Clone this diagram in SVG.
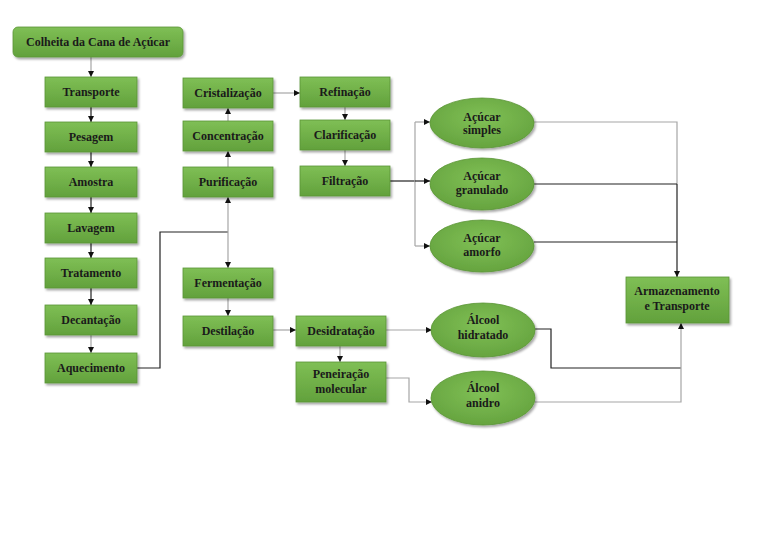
<svg xmlns="http://www.w3.org/2000/svg" width="768" height="543" viewBox="0 0 768 543">
<style>
.b{fill:url(#g);stroke:#5a9536;stroke-width:0.8;filter:url(#sh)}
.e{fill:url(#ge);stroke:#5a9536;stroke-width:0.8;filter:url(#sh)}
text{font-family:"Liberation Serif","Times New Roman",serif;font-weight:bold;font-size:12px;fill:#1a1a1a;text-anchor:middle}
.k{fill:none;stroke:#222;stroke-width:1.2}
.y{fill:none;stroke:#a6a6a6;stroke-width:1.2}
.a{marker-end:url(#ar)}
</style>
<defs>
<linearGradient id="g" x1="0" y1="0" x2="0" y2="1"><stop offset="0" stop-color="#7fbf55"/><stop offset="1" stop-color="#62a13c"/></linearGradient>
<radialGradient id="ge" cx="0.5" cy="0.4" r="0.6"><stop offset="0" stop-color="#80c056"/><stop offset="1" stop-color="#66a43f"/></radialGradient>
<filter id="sh" x="-10%" y="-10%" width="130%" height="140%"><feDropShadow dx="1.5" dy="2" stdDeviation="1.2" flood-color="#000" flood-opacity="0.35"/></filter>
<marker id="ar" viewBox="0 0 6 6" refX="6" refY="3" markerWidth="6" markerHeight="6" markerUnits="userSpaceOnUse" orient="auto"><path d="M0,0 L6,3 L0,6 z" fill="#111"/></marker>
</defs>
<g id="connectors">
<path class="y a" d="M91 57 V77"/>
<path class="k a" d="M91 107 V122"/>
<path class="k a" d="M91 152 V167"/>
<path class="k a" d="M91 197 V213"/>
<path class="k a" d="M91 243 V258"/>
<path class="k a" d="M91 288 V305"/>
<path class="y a" d="M91 335 V353"/>
<path class="k" d="M137 368 H160 V232 H228"/>
<path class="y a" d="M228 232 V197"/>
<path class="y a" d="M228 232 V268"/>
<path class="y a" d="M228 167 V151"/>
<path class="y a" d="M228 121 V108"/>
<path class="y a" d="M273 93 H300"/>
<path class="y a" d="M345 107 V120"/>
<path class="y a" d="M345 150 V166"/>
<path class="k" d="M390 181 H415"/>
<path class="y" d="M415 122 V246"/>
<path class="y a" d="M415 122 H430"/>
<path class="k a" d="M415 181 H430"/>
<path class="y a" d="M415 246 H430"/>
<path class="y" d="M533 122 H677 V184"/>
<path class="k" d="M534 184 H677"/>
<path class="k" d="M534 242 H677"/>
<path class="k a" d="M677 184 V277"/>
<path class="y a" d="M228 298 V316"/>
<path class="y a" d="M273 330 H296"/>
<path class="y a" d="M340 346 V362"/>
<path class="y a" d="M386 330 H432"/>
<path class="y a" d="M386 378 H409 V402 H432"/>
<path class="k" d="M535 329 H551 V368 H681"/>
<path class="y a" d="M535 402 H681 V323"/>
</g>
<g id="colheita"><rect class="b" x="13" y="27" width="170" height="30" rx="5"/><text x="98" y="46">Colheita da Cana de Açúcar</text></g>
<g id="transporte"><rect class="b" x="45" y="77" width="92" height="30"/><text x="91" y="96">Transporte</text></g>
<g id="pesagem"><rect class="b" x="45" y="122" width="92" height="30"/><text x="91" y="141">Pesagem</text></g>
<g id="amostra"><rect class="b" x="45" y="167" width="92" height="30"/><text x="91" y="186">Amostra</text></g>
<g id="lavagem"><rect class="b" x="45" y="213" width="92" height="30"/><text x="91" y="232">Lavagem</text></g>
<g id="tratamento"><rect class="b" x="45" y="258" width="92" height="30"/><text x="91" y="277">Tratamento</text></g>
<g id="decantacao"><rect class="b" x="45" y="305" width="92" height="30"/><text x="91" y="324">Decantação</text></g>
<g id="aquecimento"><rect class="b" x="45" y="353" width="92" height="30"/><text x="91" y="372">Aquecimento</text></g>
<g id="cristalizacao"><rect class="b" x="183" y="78" width="90" height="30"/><text x="228" y="97">Cristalização</text></g>
<g id="concentracao"><rect class="b" x="183" y="121" width="90" height="30"/><text x="228" y="140">Concentração</text></g>
<g id="purificacao"><rect class="b" x="183" y="167" width="90" height="30"/><text x="228" y="186">Purificação</text></g>
<g id="fermentacao"><rect class="b" x="183" y="268" width="90" height="30"/><text x="228" y="287">Fermentação</text></g>
<g id="destilacao"><rect class="b" x="183" y="316" width="90" height="30"/><text x="228" y="335">Destilação</text></g>
<g id="refinacao"><rect class="b" x="300" y="77" width="90" height="30"/><text x="345" y="96">Refinação</text></g>
<g id="clarificacao"><rect class="b" x="300" y="120" width="90" height="30"/><text x="345" y="139">Clarificação</text></g>
<g id="filtracao"><rect class="b" x="300" y="166" width="90" height="30"/><text x="345" y="185">Filtração</text></g>
<g id="desidratacao"><rect class="b" x="296" y="316" width="90" height="30"/><text x="341" y="335">Desidratação</text></g>
<g id="peneiracao"><rect class="b" x="296" y="362" width="90" height="40"/><text x="341" y="378">Peneiração</text><text x="341" y="393">molecular</text></g>
<g id="acucar-simples"><ellipse class="e" cx="482" cy="123" rx="52" ry="25"/><text x="482" y="121">Açúcar</text><text x="482" y="134">simples</text></g>
<g id="acucar-granulado"><ellipse class="e" cx="482" cy="184" rx="52" ry="26"/><text x="482" y="180">Açúcar</text><text x="482" y="194">granulado</text></g>
<g id="acucar-amorfo"><ellipse class="e" cx="482" cy="246" rx="52" ry="26"/><text x="482" y="242">Açúcar</text><text x="482" y="256">amorfo</text></g>
<g id="alcool-hidratado"><ellipse class="e" cx="483" cy="330" rx="52" ry="27"/><text x="483" y="324">Álcool</text><text x="483" y="339">hidratado</text></g>
<g id="alcool-anidro"><ellipse class="e" cx="483" cy="398" rx="52" ry="27"/><text x="483" y="392">Álcool</text><text x="483" y="407">anidro</text></g>
<g id="armazenamento"><rect class="b" x="626" y="277" width="103" height="46"/><text x="677" y="295">Armazenamento</text><text x="677" y="310">e Transporte</text></g>
</svg>
